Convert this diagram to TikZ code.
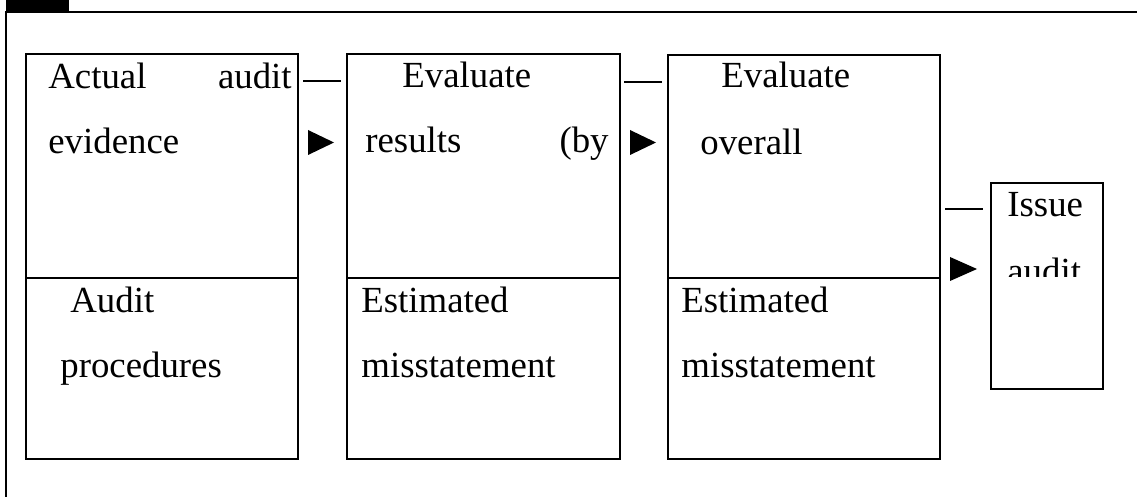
\documentclass[tikz,border=0pt]{standalone}
\usepackage{fontspec}
\setmainfont{Liberation Serif}
\begin{document}
\begin{tikzpicture}[x=0.5pt,y=-0.5pt,
  frame/.style={line width=1pt},
  box/.style={draw, line width=1pt, rectangle, inner sep=0pt, outer sep=0pt, anchor=north west},
  txt/.style={inner sep=0pt, anchor=base west, font=\fontsize{18.4}{22}\selectfont},
  txtr/.style={inner sep=0pt, anchor=base east, font=\fontsize{18.4}{22}\selectfont},
  dashline/.style={line width=1pt},
  tri/.style={fill=black}]
\useasboundingbox (0,0) rectangle (1137,497);
% outer frame
\fill (6,0) rectangle (69,11);
\draw[frame] (6,497) -- (6,12) -- (1137,12);
% boxes
\node[box, minimum width=136pt, minimum height=202.5pt] (b1) at (26,54) {};
\node[box, minimum width=136.5pt, minimum height=202.5pt] (b2) at (347,54) {};
\node[box, minimum width=136pt, minimum height=202pt] (b3) at (668,55) {};
\node[box, minimum width=56pt, minimum height=103pt] (b4) at (991,183) {};
% dividers
\draw[dashline] (b1.west |- 0,278) -- (b1.east |- 0,278);
\draw[dashline] (b2.west |- 0,278) -- (b2.east |- 0,278);
\draw[dashline] (b3.west |- 0,278) -- (b3.east |- 0,278);
% texts box 1
\node[txt] (t1a) at (48,89) {Actual};
\node[txtr] (t1b) at (292,89) {audit};
\node[txt] (t1c) at (48,154) {evidence};
\node[txt] (t1d) at (70,313) {Audit};
\node[txt] (t1e) at (60,378) {procedures};
% texts box 2
\node[txt] (t2a) at (402,88) {Evaluate};
\node[txt] (t2b) at (365,153) {results};
\node[txtr] (t2c) at (609,153) {(by};
\node[txt] (t2d) at (361,313) {Estimated};
\node[txt] (t2e) at (361,378) {misstatement};
% texts box 3
\node[txt] (t3a) at (721,88) {Evaluate};
\node[txt] (t3b) at (700,155) {overall};
\node[txt] (t3d) at (681,313) {Estimated};
\node[txt] (t3e) at (681,378) {misstatement};
% texts box 4
\node[txt] (t4a) at (1007,217) {Issue};
\begin{scope}
\clip (995,190) rectangle (1100,277);
\node[txt] (t4b) at (1007,284) {audit};
\end{scope}
% broken arrows
\draw[dashline] (303,81) -- (341,81);
\fill[tri] (308,130) -- (308,155) -- (334,142.5) -- cycle;
\draw[dashline] (624,82) -- (662,82);
\fill[tri] (630,130) -- (630,155) -- (656,142.5) -- cycle;
\draw[dashline] (945,209) -- (983,209);
\fill[tri] (950,257) -- (950,281) -- (977,269) -- cycle;
\end{tikzpicture}
\end{document}
